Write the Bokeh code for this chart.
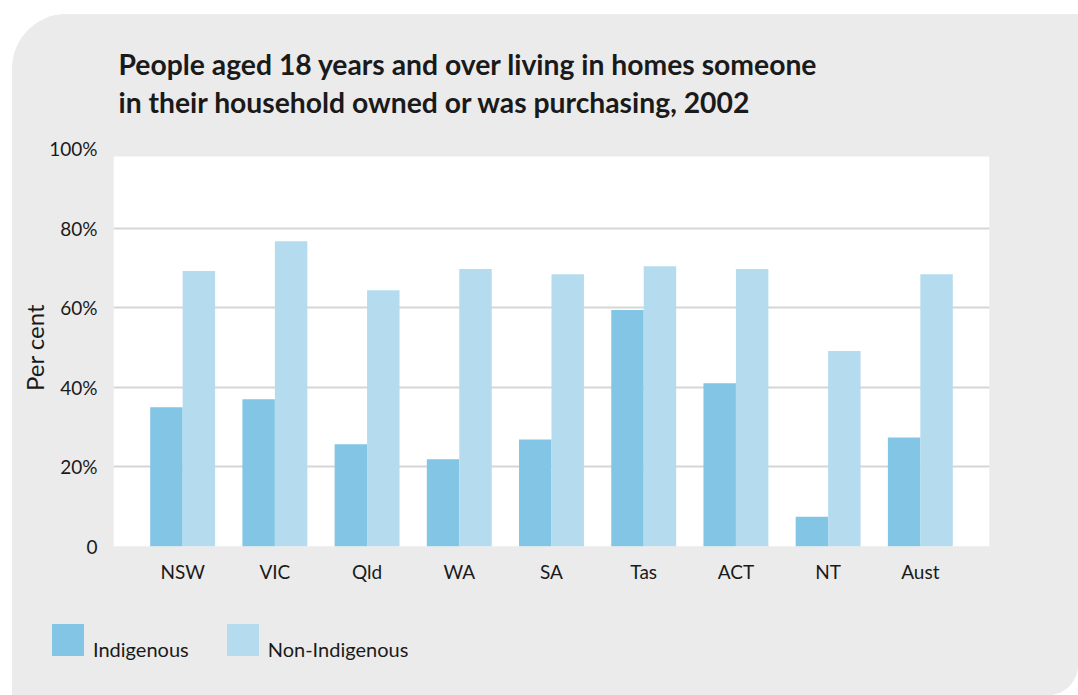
from bokeh.plotting import figure
from bokeh.layouts import column
from bokeh.models import (FactorRange, Range1d, FixedTicker, BoxAnnotation, Div,
                          ColumnDataSource, Title)
from bokeh.transform import dodge
from bokeh.embed import file_html
from bokeh.resources import INLINE

categories = ["NSW", "VIC", "Qld", "WA", "SA", "Tas", "ACT", "NT", "Aust"]
indigenous = [35.0, 37.0, 25.7, 21.9, 26.9, 59.4, 41.0, 7.5, 27.4]
non_indigenous = [69.2, 76.7, 64.4, 69.7, 68.4, 70.4, 69.7, 49.1, 68.4]
y_ticks = [0, 20, 40, 60, 80, 100]
y_tick_labels = ["0", "20%", "40%", "60%", "80%", "100%"]
series_names = ["Indigenous", "Non-Indigenous"]
title_text = ("People aged 18 years and over living in homes someone\n"
              "in their household owned or was purchasing, 2002")

FONT = "Lato"
TXT = "#1a1a1a"
BG = "#ebebeb"
C_IND = "#82c5e4"
C_NON = "#b4dcee"
series_colors = [C_IND, C_NON]

src = ColumnDataSource(dict(cat=categories, ind=indigenous, non=non_indigenous))

p = figure(width=1066, height=600, output_backend="svg", toolbar_location=None,
           x_range=FactorRange(factors=categories, range_padding=0.25,
                               range_padding_units="absolute"),
           y_range=Range1d(0, 100),
           min_border_left=101, min_border_right=89, min_border_top=134,
           min_border_bottom=68)

p.background_fill_color = BG
p.border_fill_color = BG
p.outline_line_color = None

p.title = Title(text=title_text, align="left", offset=5, text_font=FONT,
                text_font_size="28.3px", text_font_style="bold", text_color=TXT,
                text_line_height=1.12, standoff=58)

plot_bg = BoxAnnotation(bottom=0, top=98, fill_color="white", fill_alpha=1,
                        line_color=None, level="image")
p.add_layout(plot_bg)

r1 = p.vbar(x=dodge("cat", -0.176, range=p.x_range), top="ind", width=0.352,
            source=src, fill_color=C_IND, line_color=None,
            legend_label=series_names[0])
r2 = p.vbar(x=dodge("cat", 0.176, range=p.x_range), top="non", width=0.352,
            source=src, fill_color=C_NON, line_color=None,
            legend_label=series_names[1])
p.legend.visible = False  # legend is drawn in the strip below the frame

p.xgrid.visible = False
p.ygrid.ticker = FixedTicker(ticks=[20, 40, 60, 80])
p.ygrid.grid_line_color = "#d6d6d6"
p.ygrid.grid_line_width = 2

p.yaxis.ticker = FixedTicker(ticks=y_ticks)
p.yaxis.major_label_overrides = dict(zip(y_ticks, y_tick_labels))
p.yaxis.axis_label = "Per cent"
for ax in (p.xaxis[0], p.yaxis[0]):
    ax.axis_line_color = None
    ax.major_tick_line_color = None
    ax.minor_tick_line_color = None
    ax.major_label_text_font = FONT
    ax.major_label_text_font_size = "19px"
    ax.major_label_text_color = TXT
p.yaxis.major_label_standoff = 10
p.yaxis.axis_label_standoff = -3
p.yaxis.axis_label_text_font = FONT
p.yaxis.axis_label_text_font_size = "24px"
p.yaxis.axis_label_text_font_style = "normal"
p.yaxis.axis_label_text_color = TXT
p.xaxis.major_label_standoff = 7

# legend strip below the chart
items_html = ""
for i, (name, col) in enumerate(zip(series_names, series_colors)):
    gap = "0" if i == 0 else "38px"
    items_html += (
        f'<div style="display:flex;align-items:flex-end;margin-left:{gap};">'
        f'<span style="display:inline-block;width:32px;height:32px;'
        f'background:{col};"></span>'
        f'<span style="margin-left:9px;line-height:20px;position:relative;top:3px;">'
        f'{name}</span></div>'
    )
legend_div = Div(
    text=(f'<div style="display:flex;padding:10px 0 0 40px;font-family:{FONT};'
          f'font-size:20px;color:{TXT};">{items_html}</div>'),
    width=1066, height=81, styles={"background-color": BG, "margin": "0"})

page = column(p, legend_div, spacing=0,
              styles={"margin-left": "12px", "margin-top": "14px",
                      "border-top-left-radius": "55px",
                      "border-bottom-right-radius": "30px",
                      "overflow": "hidden", "background-color": BG})

open("out.html", "w").write(file_html(page, INLINE))
